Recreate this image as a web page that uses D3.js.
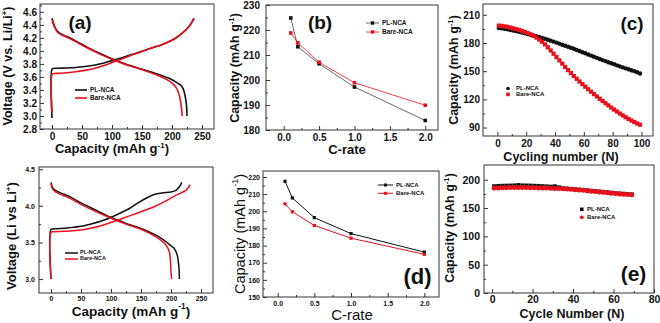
<!DOCTYPE html>
<html>
<head>
<meta charset="utf-8">
<script src="https://cdn.jsdelivr.net/npm/d3@7"></script>
<style>
  body { margin: 0; background: #fff; }
  svg { display: block; font-family: "Liberation Sans", Arial, sans-serif; }
</style>
</head>
<body>
<svg id="fig" width="660" height="323"></svg>
<script>
// (a) voltage profiles, [capacity, voltage]
const aPlCharge = [[0,2.97],[0,3.72],[2,3.73],[10,3.733],[25,3.737],[40,3.745],[55,3.76],[70,3.78],[85,3.81],[100,3.85],[115,3.89],[130,3.935],[145,3.98],[160,4.025],[175,4.07],[190,4.12],[205,4.19],[218,4.28],[228,4.37],[237,4.5]];
const aBareCharge = [[0,3.05],[0,3.64],[2,3.65],[10,3.655],[25,3.665],[40,3.68],[55,3.70],[70,3.73],[85,3.77],[100,3.82],[115,3.87],[130,3.925],[145,3.975],[160,4.025],[175,4.07],[190,4.12],[205,4.19],[218,4.28],[228,4.37],[236,4.49]];
const aPlDischarge = [[0,4.5],[2,4.44],[5,4.36],[9,4.3],[15,4.26],[25,4.22],[40,4.15],[60,4.05],[80,3.96],[100,3.88],[120,3.805],[140,3.745],[160,3.69],[180,3.63],[195,3.58],[207,3.52],[216,3.46],[220,3.38],[223,3.25],[224.5,3.12],[225,3.0]];
const aBareDischarge = [[0,4.48],[2,4.42],[5,4.35],[9,4.29],[15,4.25],[25,4.21],[40,4.14],[60,4.04],[80,3.95],[100,3.87],[120,3.80],[140,3.74],[160,3.68],[180,3.61],[193,3.55],[202,3.49],[208,3.42],[212,3.32],[215,3.18],[217,3.0]];

// (b) rate capability
const bRate = [0.1, 0.2, 0.5, 1.0, 2.0];
const bPl = [224.8, 213.3, 206.5, 197.2, 183.8];
const bBare = [218.8, 214.9, 207.1, 198.9, 189.9];

// (c) cycling, every second cycle
const cCycles = [1,3,5,7,9,11,13,15,17,19,21,23,25,27,29,31,33,35,37,39,41,43,45,47,49,51,53,55,57,59,61,63,65,67,69,71,73,75,77,79,81,83,85,87,89,91,93,95,97,99];
const cPl = [196,195.6,195.1,194.5,193.9,193.3,192.6,191.9,191.2,190.4,189.6,188.8,188,187.2,186.3,185.4,184.5,183.5,182.5,181.5,180.4,179.3,178.2,177.1,176,174.9,173.8,172.6,171.4,170.2,169,167.8,166.6,165.4,164.2,163,161.8,160.7,159.5,158.4,157.3,156.2,155.1,154,153,152,151,150,148.9,147.6];
const cBare = [198.5,198.2,197.7,197.1,196.4,195.6,194.8,193.9,192.9,191.8,190.6,189.2,187.6,185.8,183.7,181.3,178.5,175.4,172,168.5,165,161.5,158,154.5,151.2,148,144.9,141.9,139,136.2,133.5,130.8,128.2,125.6,123.1,120.6,118.2,115.9,113.6,111.3,109.1,107,104.9,102.9,101,99.2,97.5,95.9,94.4,93];

// lower-left voltage profiles
const fPlCharge = [[0,3.0],[0,3.68],[3,3.685],[15,3.69],[30,3.70],[50,3.72],[70,3.76],[90,3.81],[110,3.88],[130,3.96],[145,4.04],[160,4.11],[172,4.155],[185,4.175],[200,4.19],[208,4.21],[214,4.26],[218,4.32]];
const fBareCharge = [[0,3.0],[0,3.64],[3,3.645],[15,3.65],[30,3.655],[50,3.67],[70,3.70],[90,3.745],[110,3.80],[130,3.86],[150,3.92],[170,3.98],[190,4.06],[205,4.13],[218,4.18],[226,4.22],[232,4.29]];
const fPlDischarge = [[0,4.32],[2,4.26],[6,4.22],[15,4.18],[30,4.13],[50,4.04],[75,3.94],[100,3.84],[125,3.76],[150,3.69],[170,3.62],[185,3.55],[196,3.48],[205,3.42],[210,3.34],[213,3.18],[214,3.0]];
const fBareDischarge = [[0,4.30],[2,4.24],[6,4.20],[15,4.16],[30,4.11],[50,4.02],[75,3.92],[100,3.83],[125,3.75],[150,3.68],[170,3.60],[183,3.53],[192,3.46],[197,3.38],[199,3.25],[200,3.1],[201,3.0]];

// (d) rate capability
const dRate = [0.1, 0.2, 0.5, 1.0, 2.0];
const dPl = [217.5, 207.8, 196.3, 187.0, 176.2];
const dBare = [204.3, 199.7, 191.7, 184.3, 174.9];

// (e) cycling, every second cycle
const eCycles = [1,3,5,7,9,11,13,15,17,19,21,23,25,27,29,31,33,35,37,39,41,43,45,47,49,51,53,55,57,59,61,63,65,67,69];
const ePl = [188.5,189,189.3,189.5,189.7,189.9,190.6,189.9,189.8,189.6,189.3,189,188.6,188.2,187.7,188.4,186.6,185,184.4,183.8,183.2,182.6,182,181.3,180.6,179.9,179.2,178.5,177.8,177.1,176.4,175.8,175.2,174.6,174.1];
const eBare = [185.2,185.5,185.8,186,186.1,186.2,186.2,186.2,186.1,186,185.8,185.6,185.4,185.2,184.9,184.6,184.3,184,183.5,183,182.4,181.8,181.2,180.5,179.8,179.1,178.4,177.7,177,176.3,175.6,175,174.4,173.8,173.3];

const BLACK = "#111";
const RED = "#e8101a";

const svg = d3.select("#fig");
svg.append("rect").attr("width", 660).attr("height", 323).attr("fill", "#fff");

function range(a, b, step) {
  const out = [];
  for (let v = a; v <= b + step / 1000; v += step) out.push(+v.toFixed(6));
  return out;
}

// frame + inward ticks, Origin style
function panel(o) {
  const x = d3.scaleLinear().domain(o.xDomain).range([o.left, o.right]);
  const y = d3.scaleLinear().domain(o.yDomain).range([o.bottom, o.top]);
  const g = svg.append("g");

  const bx = g.append("g").attr("transform", `translate(0,${o.bottom})`);
  bx.append("g").call(d3.axisBottom(x).tickValues(o.xMinor).tickSize(-2).tickFormat(""));
  bx.append("g").call(d3.axisBottom(x).tickValues(o.xMajor).tickSize(-4)
    .tickPadding(o.xPad).tickFormat(o.xFmt));

  const ly = g.append("g").attr("transform", `translate(${o.left},0)`);
  ly.append("g").call(d3.axisLeft(y).tickValues(o.yMinor).tickSize(-2).tickFormat(""));
  ly.append("g").call(d3.axisLeft(y).tickValues(o.yMajor).tickSize(-4)
    .tickPadding(o.yPad).tickFormat(o.yFmt));

  g.selectAll(".domain").remove();
  g.selectAll(".tick line").attr("stroke", "#333");
  g.selectAll(".tick text")
    .attr("fill", "#111")
    .attr("font-size", o.tickSize)
    .attr("font-weight", "bold")
    .attr("font-family", "'Liberation Sans', Arial, sans-serif");

  g.append("rect")
    .attr("x", o.left).attr("y", o.top)
    .attr("width", o.right - o.left).attr("height", o.bottom - o.top)
    .attr("fill", "none").attr("stroke", "#333").attr("stroke-width", 1);

  return { g, x, y };
}

// text with an optional superscript piece and a trailing part
function label(g, t) {
  const el = g.append("text")
    .attr("text-anchor", "middle")
    .attr("dominant-baseline", "middle")
    .attr("font-size", t.size)
    .attr("font-weight", t.weight || "bold")
    .attr("fill", "#111")
    .attr("transform", t.rotate ? `translate(${t.x},${t.y}) rotate(-90)` : `translate(${t.x},${t.y})`);
  el.append("tspan").text(t.text);
  if (t.sup) {
    el.append("tspan").attr("baseline-shift", "super").attr("font-size", "0.62em").text(t.sup);
    el.append("tspan").text(t.after || "");
  }
  return el;
}

function curve(g, x, y, data, color, width) {
  g.append("path")
    .datum(data)
    .attr("fill", "none")
    .attr("stroke", color)
    .attr("stroke-width", width)
    .attr("stroke-linejoin", "round")
    .attr("d", d3.line().x(d => x(d[0])).y(d => y(d[1])).curve(d3.curveCatmullRom.alpha(0.5)));
}

function squares(g, x, y, xs, ys, color, s) {
  g.append("g").selectAll("rect")
    .data(xs.map((v, i) => [v, ys[i]]))
    .join("rect")
    .attr("x", d => x(d[0]) - s / 2)
    .attr("y", d => y(d[1]) - s / 2)
    .attr("width", s).attr("height", s)
    .attr("fill", color);
}

function dots(g, x, y, xs, ys, color, r) {
  g.append("g").selectAll("circle")
    .data(xs.map((v, i) => [v, ys[i]]))
    .join("circle")
    .attr("cx", d => x(d[0]))
    .attr("cy", d => y(d[1]))
    .attr("r", r)
    .attr("fill", color);
}

function legendText(g, xPos, yPos, text, size) {
  g.append("text")
    .attr("x", xPos).attr("y", yPos)
    .attr("dominant-baseline", "middle")
    .attr("font-size", size)
    .attr("font-weight", "bold")
    .attr("fill", "#111")
    .text(text);
}

const f1 = d3.format(".1f");
const f0 = d3.format("d");

// ---------- (a) ----------
{
  const p = panel({
    left: 40, right: 214, top: 4, bottom: 129,
    xDomain: [-20, 270], yDomain: [2.8, 4.72],
    xMajor: range(0, 250, 50), xMinor: range(25, 250, 50),
    yMajor: range(2.8, 4.6, 0.2), yMinor: range(2.9, 4.7, 0.2),
    xFmt: f0, yFmt: f1, xPad: 4, yPad: 3, tickSize: 10
  });
  curve(p.g, p.x, p.y, aPlDischarge, BLACK, 1.6);
  curve(p.g, p.x, p.y, aPlCharge, BLACK, 1.6);
  curve(p.g, p.x, p.y, aBareDischarge, RED, 1.6);
  curve(p.g, p.x, p.y, aBareCharge, RED, 1.6);

  p.g.append("line").attr("x1", 75).attr("x2", 87).attr("y1", 90).attr("y2", 90).attr("stroke", BLACK).attr("stroke-width", 1.6);
  p.g.append("line").attr("x1", 75).attr("x2", 87).attr("y1", 98).attr("y2", 98).attr("stroke", RED).attr("stroke-width", 1.6);
  legendText(p.g, 90, 90, "PL-NCA", 6.5);
  legendText(p.g, 90, 98, "Bare-NCA", 6.5);

  label(p.g, { x: 80, y: 24, text: "(a)", size: 19 });
  label(p.g, { x: 112, y: 150, text: "Capacity (mAh g", sup: "-1", after: ")", size: 13 });
  label(p.g, { x: 9, y: 66, text: "Voltage (V vs. Li/Li", sup: "+", after: ")", size: 12.5, rotate: true });
}

// ---------- (b) ----------
{
  const p = panel({
    left: 266, right: 438, top: 5, bottom: 130,
    xDomain: [-0.25, 2.18], yDomain: [180, 230],
    xMajor: range(0, 2, 0.5), xMinor: range(0.25, 2, 0.5),
    yMajor: range(180, 230, 10), yMinor: range(185, 225, 10),
    xFmt: f1, yFmt: f0, xPad: 4, yPad: 6, tickSize: 10
  });
  const line = d3.line().x((d, i) => p.x(bRate[i])).y(d => p.y(d));
  p.g.append("path").datum(bPl).attr("d", line).attr("fill", "none").attr("stroke", "#444").attr("stroke-width", 0.8);
  p.g.append("path").datum(bBare).attr("d", line).attr("fill", "none").attr("stroke", RED).attr("stroke-width", 0.8);
  squares(p.g, p.x, p.y, bRate, bPl, BLACK, 3.6);
  squares(p.g, p.x, p.y, bRate, bBare, RED, 3.6);

  [[23, "#444", BLACK, "PL-NCA"], [32, RED, RED, "Bare-NCA"]].forEach(([ly, lc, mc, t]) => {
    p.g.append("line").attr("x1", 366).attr("x2", 379).attr("y1", ly).attr("y2", ly).attr("stroke", lc).attr("stroke-width", 0.8);
    p.g.append("rect").attr("x", 370.8).attr("y", ly - 1.7).attr("width", 3.4).attr("height", 3.4).attr("fill", mc);
    legendText(p.g, 382, ly, t, 6.5);
  });

  label(p.g, { x: 320, y: 24, text: "(b)", size: 19 });
  label(p.g, { x: 347, y: 151, text: "C-rate", size: 13 });
  label(p.g, { x: 236, y: 68, text: "Capacity (mAh g", sup: "-1", after: ")", size: 12.5, rotate: true });
}

// ---------- (c) ----------
{
  const p = panel({
    left: 483, right: 653, top: 4, bottom: 136,
    xDomain: [-10, 108], yDomain: [81, 221.5],
    xMajor: range(0, 100, 20), xMinor: range(10, 100, 20),
    yMajor: range(90, 210, 30), yMinor: range(105, 210, 30),
    xFmt: f0, yFmt: f0, xPad: 4, yPad: 3, tickSize: 10
  });
  dots(p.g, p.x, p.y, cCycles, cPl, BLACK, 2.2);
  squares(p.g, p.x, p.y, cCycles, cBare, RED, 4.2);

  p.g.append("circle").attr("cx", 508).attr("cy", 88.5).attr("r", 1.8).attr("fill", BLACK);
  p.g.append("rect").attr("x", 506.2).attr("y", 92.6).attr("width", 3.6).attr("height", 3.6).attr("fill", RED);
  legendText(p.g, 516, 88.5, "PL-NCA", 6);
  legendText(p.g, 516, 94.5, "Bare-NCA", 6);

  label(p.g, { x: 632, y: 25, text: "(c)", size: 19 });
  label(p.g, { x: 561, y: 158, text: "Cycling number (N)", size: 12.5 });
  label(p.g, { x: 455, y: 70, text: "Capacity (mAh g", sup: "-1", after: ")", size: 12.5, rotate: true });
}

// ---------- lower-left voltage profiles ----------
{
  const p = panel({
    left: 39, right: 213, top: 167, bottom: 293,
    xDomain: [-20, 270], yDomain: [2.81, 4.53],
    xMajor: range(0, 250, 50), xMinor: range(25, 250, 50),
    yMajor: range(3.0, 4.5, 0.5), yMinor: range(3.25, 4.5, 0.5),
    xFmt: f0, yFmt: f1, xPad: 3.5, yPad: 4, tickSize: 7
  });
  curve(p.g, p.x, p.y, fPlDischarge, BLACK, 1.5);
  curve(p.g, p.x, p.y, fPlCharge, BLACK, 1.5);
  curve(p.g, p.x, p.y, fBareDischarge, RED, 1.5);
  curve(p.g, p.x, p.y, fBareCharge, RED, 1.5);

  p.g.append("line").attr("x1", 65).attr("x2", 78).attr("y1", 253).attr("y2", 253).attr("stroke", BLACK).attr("stroke-width", 1.5);
  p.g.append("line").attr("x1", 65).attr("x2", 78).attr("y1", 259).attr("y2", 259).attr("stroke", RED).attr("stroke-width", 1.5);
  legendText(p.g, 80, 253, "PL-NCA", 5.5);
  legendText(p.g, 80, 259, "Bare-NCA", 5.5);

  label(p.g, { x: 131, y: 312, text: "Capacity (mAh g", sup: "-1", after: ")", size: 13.5 });
  label(p.g, { x: 13, y: 236, text: "Voltage (Li vs Li", sup: "+", after: ")", size: 13, rotate: true });
}

// ---------- (d) ----------
{
  const p = panel({
    left: 263, right: 439, top: 171, bottom: 297,
    xDomain: [-0.2, 2.2], yDomain: [150, 223.5],
    xMajor: range(0, 2, 0.5), xMinor: range(0.25, 2, 0.5),
    yMajor: range(150, 220, 10), yMinor: range(155, 220, 10),
    xFmt: f1, yFmt: f0, xPad: 4.5, yPad: 3, tickSize: 7
  });
  const line = d3.line().x((d, i) => p.x(dRate[i])).y(d => p.y(d));
  p.g.append("path").datum(dPl).attr("d", line).attr("fill", "none").attr("stroke", BLACK).attr("stroke-width", 1);
  p.g.append("path").datum(dBare).attr("d", line).attr("fill", "none").attr("stroke", RED).attr("stroke-width", 1);
  squares(p.g, p.x, p.y, dRate, dPl, BLACK, 3.2);
  squares(p.g, p.x, p.y, dRate, dBare, RED, 3.2);

  [[185, BLACK, "PL-NCA"], [193.3, RED, "Bare-NCA"]].forEach(([ly, c, t]) => {
    p.g.append("line").attr("x1", 378).attr("x2", 393).attr("y1", ly).attr("y2", ly).attr("stroke", c).attr("stroke-width", 1);
    p.g.append("rect").attr("x", 384).attr("y", ly - 1.5).attr("width", 3).attr("height", 3).attr("fill", c);
    legendText(p.g, 396, ly, t, 6);
  });

  label(p.g, { x: 417.5, y: 278, text: "(d)", size: 22 });
  label(p.g, { x: 352, y: 316, text: "C-rate", size: 15, weight: "normal" });
  label(p.g, { x: 241, y: 234, text: "Capacity (mAh g", sup: "-1", after: ")", size: 14.5, weight: "normal", rotate: true });
}

// ---------- (e) ----------
{
  const p = panel({
    left: 484, right: 654, top: 165, bottom: 293,
    xDomain: [-4, 80], yDomain: [0, 226],
    xMajor: range(0, 80, 20), xMinor: range(10, 70, 20),
    yMajor: range(0, 200, 50), yMinor: range(25, 200, 50),
    xFmt: f0, yFmt: f0, xPad: 3, yPad: 4, tickSize: 10.5
  });
  squares(p.g, p.x, p.y, eCycles, ePl, BLACK, 4);
  dots(p.g, p.x, p.y, eCycles, eBare, RED, 2.5);

  p.g.append("rect").attr("x", 580).attr("y", 207.5).attr("width", 3.6).attr("height", 3.6).attr("fill", BLACK);
  p.g.append("circle").attr("cx", 581.8).attr("cy", 217.3).attr("r", 1.9).attr("fill", RED);
  legendText(p.g, 587, 209.3, "PL-NCA", 6);
  legendText(p.g, 587, 217.3, "Bare-NCA", 6);

  label(p.g, { x: 633.5, y: 275, text: "(e)", size: 21 });
  label(p.g, { x: 572, y: 315, text: "Cycle Number (N)", size: 12.5 });
  label(p.g, { x: 451, y: 228, text: "Capacity (mAh g", sup: "-1", after: ")", size: 12.5, rotate: true });
}
</script>
</body>
</html>
